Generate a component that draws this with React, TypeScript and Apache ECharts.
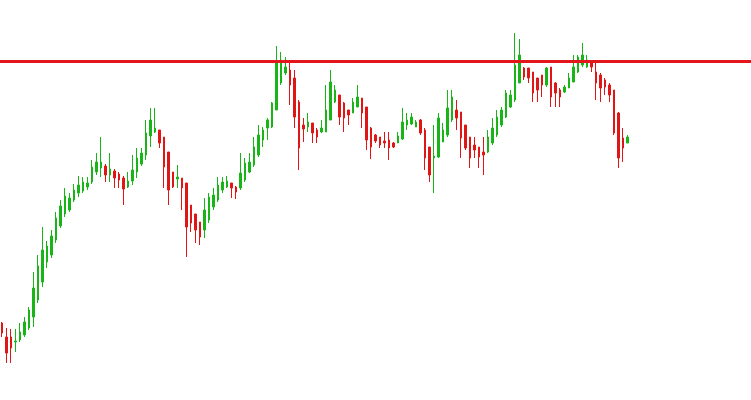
import { useEffect, useRef } from "react";
import * as echarts from "echarts";

const opens = [
  77, 63, 63, 58, 60, 65, 72, 83, 100, 118, 138, 145, 160, 174, 186, 190, 200, 207, 209, 213,
  218, 228, 232, 234, 225, 229, 226, 222, 213, 219, 228, 236, 245, 264, 268, 270, 263, 248, 228, 221,
  222, 217, 195, 186, 178, 170, 180, 193, 200, 210, 213, 217, 213, 212, 220, 228, 235, 245, 260, 272,
  273, 290, 317, 327, 330, 322, 298, 275, 273, 277, 270, 268, 268, 280, 298, 305, 297, 290, 287, 293,
  302, 293, 272, 265, 263, 259, 260, 257, 257, 261, 275, 276, 273, 280, 270, 253, 242, 243, 258, 265,
  280, 290, 288, 275, 263, 255, 253, 248, 248, 257, 265, 275, 283, 293, 300, 317, 332, 332, 328, 322,
  325, 315, 333, 317, 310, 308, 312, 318, 328, 335, 333, 338, 328, 325, 320, 315, 310, 287, 262, 257,
];
const closes = [
  67, 47, 52, 59, 68, 78, 90, 112, 134, 150, 154, 164, 182, 194, 204, 202, 210, 215, 218, 217,
  233, 238, 238, 225, 231, 222, 220, 211, 219, 230, 242, 247, 267, 280, 272, 257, 233, 210, 213, 223,
  212, 173, 177, 170, 163, 190, 203, 205, 215, 218, 219, 212, 208, 227, 237, 238, 253, 265, 270, 280,
  297, 338, 340, 333, 315, 283, 252, 271, 278, 267, 263, 272, 290, 318, 310, 283, 282, 285, 298, 303,
  287, 260, 253, 259, 255, 257, 252, 253, 264, 278, 280, 283, 278, 267, 242, 225, 244, 282, 270, 292,
  303, 282, 262, 252, 242, 250, 243, 245, 263, 272, 283, 290, 307, 305, 335, 345, 323, 322, 307, 310,
  315, 332, 303, 307, 303, 313, 322, 333, 343, 345, 340, 333, 317, 312, 313, 305, 267, 242, 252, 263,
];
const lows = [
  63, 37, 37, 48, 58, 63, 70, 73, 97, 113, 132, 142, 157, 172, 183, 188, 198, 203, 207, 210,
  216, 225, 223, 218, 218, 212, 212, 195, 212, 215, 222, 234, 240, 253, 267, 252, 212, 195, 212, 212,
  190, 143, 168, 157, 155, 162, 177, 190, 198, 207, 212, 202, 201, 210, 218, 227, 233, 243, 253, 260,
  272, 290, 315, 325, 295, 272, 230, 258, 268, 257, 257, 267, 268, 280, 297, 275, 268, 275, 287, 293,
  272, 250, 241, 257, 252, 252, 240, 252, 257, 260, 270, 275, 273, 265, 230, 218, 207, 242, 258, 263,
  278, 270, 242, 250, 232, 242, 232, 225, 247, 255, 263, 273, 282, 292, 298, 317, 320, 317, 298, 298,
  303, 313, 293, 293, 293, 307, 312, 318, 327, 333, 332, 328, 300, 298, 305, 298, 265, 232, 238, 257,
];
const highs = [
  78, 72, 71, 71, 77, 83, 93, 128, 145, 173, 159, 170, 188, 200, 212, 207, 216, 224, 223, 223,
  240, 247, 263, 236, 247, 231, 228, 224, 228, 245, 252, 252, 280, 292, 292, 270, 263, 248, 228, 235,
  222, 217, 195, 186, 178, 202, 207, 212, 223, 223, 224, 217, 214, 247, 242, 247, 263, 275, 273, 282,
  298, 354, 348, 343, 338, 330, 300, 282, 287, 277, 272, 280, 315, 330, 315, 305, 298, 290, 302, 315,
  302, 293, 273, 266, 263, 268, 268, 258, 268, 292, 287, 287, 280, 281, 272, 253, 275, 287, 277, 310,
  310, 300, 288, 275, 263, 263, 253, 263, 270, 282, 290, 293, 310, 310, 367, 361, 333, 332, 328, 322,
  325, 333, 333, 318, 312, 315, 327, 345, 345, 357, 345, 340, 338, 327, 322, 317, 310, 288, 272, 265,
];
const levelLine = 339;
const emptySlots = 27;

const GREEN = "#18b418";
const RED = "#e01515";

export default function App() {
  const ref = useRef<HTMLDivElement>(null);
  useEffect(() => {
    const chart = echarts.init(ref.current!, null, { renderer: "svg" });
    const n = opens.length;
    const categories = Array.from({ length: n + emptySlots }, (_, i) => String(i + 1));
    const data = opens.map((o, i) => [o, closes[i], lows[i], highs[i]]);
    chart.setOption({
      animation: false,
      backgroundColor: "#ffffff",
      grid: { left: -1, right: -1, top: 0, bottom: 0 },
      xAxis: { type: "category", data: categories, show: false, boundaryGap: true },
      yAxis: { type: "value", min: 0, max: 400, show: false },
      series: [
        {
          type: "candlestick",
          data,
          barWidth: 2,
          itemStyle: {
            color: GREEN,
            color0: RED,
            borderColor: GREEN,
            borderColor0: RED,
            borderWidth: 1,
          },
          markLine: {
            silent: true,
            symbol: "none",
            label: { show: false },
            lineStyle: { color: "#e3161b", width: 3, type: "solid" },
            data: [{ yAxis: levelLine }],
          },
        },
      ],
    });
    return () => chart.dispose();
  }, []);
  return (
    <div
      ref={ref}
      style={{ position: "fixed", left: 0, top: 0, width: 751, height: 400 }}
    />
  );
}
